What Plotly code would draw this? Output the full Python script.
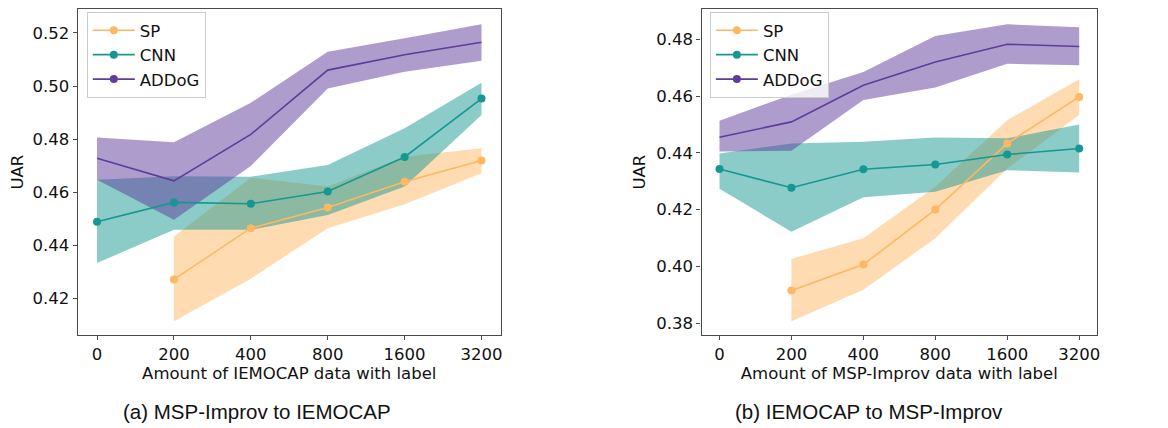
import plotly.graph_objects as go

# ---------------- data ----------------
x_labels = ["0", "200", "400", "800", "1600", "3200"]
series = ["SP", "CNN", "ADDoG"]

# (a) MSP-Improv to IEMOCAP
a_sp_mean = [0.4272, 0.4465, 0.4543, 0.4640, 0.4720]
a_sp_up = [0.4434, 0.4655, 0.4622, 0.4734, 0.4766]
a_sp_lo = [0.4115, 0.4275, 0.4465, 0.4555, 0.4672]

a_cnn_mean = [0.4489, 0.4562, 0.4557, 0.4603, 0.4733, 0.4953]
a_cnn_up = [0.4647, 0.4660, 0.4659, 0.4703, 0.4841, 0.5012]
a_cnn_lo = [0.4334, 0.4459, 0.4459, 0.4515, 0.4622, 0.4891]

a_add_mean = [0.4728, 0.4643, 0.4818, 0.5060, 0.5118, 0.5165]
a_add_up = [0.4806, 0.4788, 0.4937, 0.5129, 0.5180, 0.5233]
a_add_lo = [0.4647, 0.4497, 0.4699, 0.4991, 0.5054, 0.5095]

# (b) IEMOCAP to MSP-Improv
b_sp_mean = [0.3915, 0.4006, 0.4200, 0.4433, 0.4597]
b_sp_up = [0.4026, 0.4099, 0.4280, 0.4515, 0.4659]
b_sp_lo = [0.3806, 0.3917, 0.4099, 0.4345, 0.4533]

b_cnn_mean = [0.4343, 0.4277, 0.4342, 0.4359, 0.4394, 0.4415]
b_cnn_up = [0.4398, 0.4433, 0.4439, 0.4454, 0.4451, 0.4500]
b_cnn_lo = [0.4273, 0.4122, 0.4243, 0.4263, 0.4339, 0.4331]

b_add_mean = [0.4455, 0.4509, 0.4638, 0.4720, 0.4783, 0.4775]
b_add_up = [0.4513, 0.4605, 0.4685, 0.4812, 0.4853, 0.4843]
b_add_lo = [0.4405, 0.4407, 0.4586, 0.4630, 0.4714, 0.4709]

a_ticks = [0.42, 0.44, 0.46, 0.48, 0.50, 0.52]
b_ticks = [0.38, 0.40, 0.42, 0.44, 0.46, 0.48]

# ---------------- styling ----------------
COL = {"SP": (253, 184, 99), "CNN": (23, 151, 145), "ADDoG": (94, 60, 153)}
MARK = {"SP": True, "CNN": True, "ADDoG": False}
FONT = "DejaVu Sans"
FS = 16.5
OFFX, OFFY = 8, 7            # page body margin
W, H = 1168 - OFFX, 428 - OFFY


def px(v):                   # reference x pixel -> paper fraction
    return (v - OFFX) / W


def py(v):                   # reference y pixel -> paper fraction
    return min(1.0, max(0.0, 1 - (v - OFFY) / H))


def rgb(c, a=1.0):
    return f"rgba({c[0]},{c[1]},{c[2]},{a})"


fig = go.Figure()


def add_panel(xa, ya, legend, data):
    for name, (mean, up, lo) in data.items():
        xs = x_labels[len(x_labels) - len(mean):]
        c = COL[name]
        fig.add_trace(go.Scatter(
            x=xs + xs[::-1], y=up + lo[::-1], fill="toself",
            fillcolor=rgb(c, 0.5), line=dict(width=0), mode="lines",
            hoverinfo="skip", showlegend=False, xaxis=xa, yaxis=ya))
    for name, (mean, up, lo) in data.items():
        xs = x_labels[len(x_labels) - len(mean):]
        c = COL[name]
        fig.add_trace(go.Scatter(
            x=xs, y=mean, mode="lines+markers" if MARK[name] else "lines",
            line=dict(color=rgb(c), width=1.6),
            marker=dict(color=rgb(c), size=8),
            showlegend=False, xaxis=xa, yaxis=ya))
    for name in series:
        c = COL[name]
        fig.add_trace(go.Scatter(
            x=[None], y=[None], mode="lines+markers", name=name,
            line=dict(color=rgb(c), width=1.6),
            marker=dict(color=rgb(c), size=8),
            legend=legend, xaxis=xa, yaxis=ya))


add_panel("x", "y", "legend", {
    "SP": (a_sp_mean, a_sp_up, a_sp_lo),
    "CNN": (a_cnn_mean, a_cnn_up, a_cnn_lo),
    "ADDoG": (a_add_mean, a_add_up, a_add_lo)})
add_panel("x2", "y2", "legend2", {
    "SP": (b_sp_mean, b_sp_up, b_sp_lo),
    "CNN": (b_cnn_mean, b_cnn_up, b_cnn_lo),
    "ADDoG": (b_add_mean, b_add_up, b_add_lo)})

axis_common = dict(
    showline=True, mirror=True, linecolor="#4a4a4a", linewidth=1.3,
    ticks="outside", ticklen=4, tickwidth=1.2, tickcolor="#4a4a4a",
    showgrid=False, zeroline=False,
    tickfont=dict(family=FONT, size=FS, color="#111"),
)
ydom = [py(334), py(7)]
tfont = dict(family=FONT, size=FS, color="#111")
legend_common = dict(xanchor="left", yanchor="top", traceorder="normal",
                     bgcolor="rgba(255,255,255,0.8)", bordercolor="#cccccc",
                     borderwidth=1, font=tfont, itemwidth=42)

fig.update_layout(
    width=W, height=H, margin=dict(l=0, r=0, t=0, b=0),
    paper_bgcolor="white", plot_bgcolor="white",
    xaxis=dict(axis_common, domain=[px(78), px(502)], anchor="y",
               type="category", categoryorder="array", categoryarray=x_labels,
               range=[-0.25, 5.25],
               title=dict(text="Amount of IEMOCAP data with label", standoff=2,
                          font=tfont)),
    yaxis=dict(axis_common, domain=ydom, anchor="x", range=[0.4062, 0.529],
               tickvals=a_ticks, tickformat=".2f",
               title=dict(text="UAR", standoff=8, font=tfont)),
    xaxis2=dict(axis_common, domain=[px(703.3), px(1100)], anchor="y2",
                type="category", categoryorder="array", categoryarray=x_labels,
                range=[-0.25, 5.25],
                title=dict(text="Amount of MSP-Improv data with label", standoff=2,
                           font=tfont)),
    yaxis2=dict(axis_common, domain=ydom, anchor="x2", range=[0.3757, 0.4907],
                tickvals=b_ticks, tickformat=".2f",
                title=dict(text="UAR", standoff=6, font=tfont)),
    legend=dict(legend_common, x=px(87), y=py(10)),
    legend2=dict(legend_common, x=px(711.7), y=py(10)),
    annotations=[
        dict(text="(a) MSP-Improv to IEMOCAP", x=px(258), y=py(410),
             xref="paper", yref="paper", showarrow=False,
             xanchor="center", yanchor="middle",
             font=dict(family="Liberation Sans", size=20.5, color="#111")),
        dict(text="(b) IEMOCAP to MSP-Improv", x=px(871.7), y=py(410),
             xref="paper", yref="paper", showarrow=False,
             xanchor="center", yanchor="middle",
             font=dict(family="Liberation Sans", size=20.5, color="#111")),
    ],
)

fig.write_html("out.html")
